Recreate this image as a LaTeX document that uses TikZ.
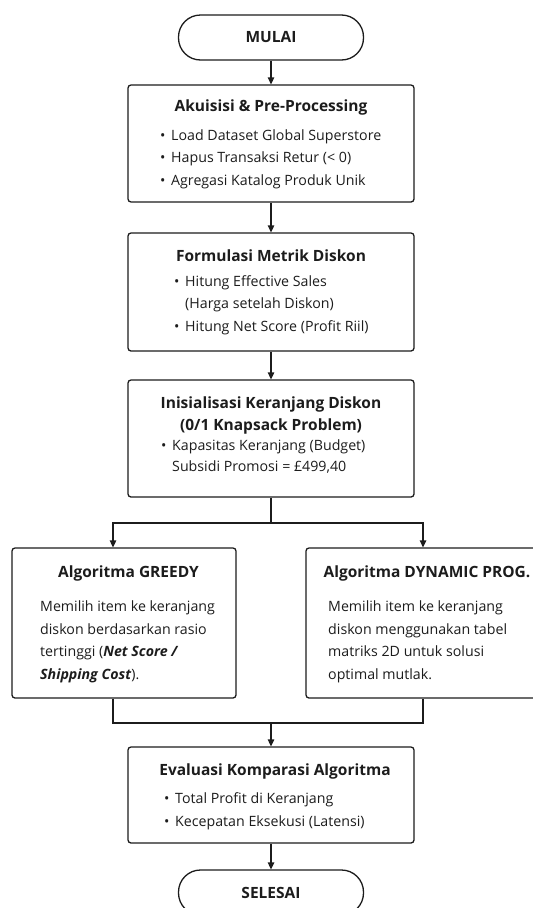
\documentclass[tikz,border=0pt]{standalone}
\usepackage{fontspec}
\setmainfont{Open Sans}
\usetikzlibrary{arrows.meta}
\definecolor{ink}{HTML}{1C1C1C}
\tikzset{
  boxstyle/.style={draw=ink, line width=1.3pt, rounded corners=3pt, inner sep=0pt},
  termstyle/.style={draw=ink, line width=1.3pt, rounded corners=22pt, inner sep=0pt, minimum width=185pt, minimum height=45pt},
  titletext/.style={text=ink, font=\fontsize{15.5}{22}\selectfont\bfseries, inner sep=0pt, align=center},
  bodytext/.style={text=ink, font=\fontsize{14.2}{22.6}\selectfont, inner sep=0pt, align=left, anchor=west},
  conn/.style={draw=ink, line width=1.3pt},
  arr/.style={conn, -{Triangle[length=7pt,width=6.5pt]}}
}
\newcommand{\bul}{\textbullet\hspace{0.4em}}
\newcommand{\bulind}{\phantom{\textbullet\hspace{0.4em}}}
\begin{document}
\begin{tikzpicture}[x=1pt,y=-1pt]
\useasboundingbox (0,0) rectangle (533,908);
% terminals
\node[termstyle] (start) at (271,37.5) {};
\node[titletext] (starttxt) at (271,37.5) {MULAI};
\node[termstyle] (stop) at (271,892.5) {};
\node[titletext] (stoptxt) at (271,892.5) {SELESAI};
% box 1
\node[boxstyle, minimum width=286pt, minimum height=117pt] (b1) at (271,143.5) {};
\node[titletext] (b1t) at (271,107) {Akuisisi \& Pre-Processing};
\node[bodytext] (b1b) at (160,159) {\bul Load Dataset Global Superstore\\ \bul Hapus Transaksi Retur (< 0)\\ \bul Agregasi Katalog Produk Unik};
% box 2
\node[boxstyle, minimum width=286pt, minimum height=118pt] (b2) at (271,292) {};
\node[titletext] (b2t) at (271,256) {Formulasi Metrik Diskon};
\node[bodytext] (b2b) at (174,305) {\bul Hitung Effective Sales\\ \bulind(Harga setelah Diskon)\\ \bul Hitung Net Score (Profit Riil)};
% box 3
\node[boxstyle, minimum width=286pt, minimum height=117pt] (b3) at (271,438.5) {};
\node[titletext] (b3t) at (271,415) {Inisialisasi Keranjang Diskon\\ (0/1 Knapsack Problem)};
\node[bodytext, font=\fontsize{14.2}{21}\selectfont] (b3b) at (161,456.5) {\bul Kapasitas Keranjang (Budget)\\ \bulind Subsidi Promosi = £499,40};
% greedy box
\node[boxstyle, minimum width=224pt, minimum height=150pt] (gr) at (124,623) {};
\node[titletext] (grt) at (128.5,573) {Algoritma GREEDY};
\node[bodytext] (grb) at (40,642) {Memilih item ke keranjang\\ diskon berdasarkan rasio\\ tertinggi (\textbf{\textit{Net Score /}}\\ \textbf{\textit{Shipping Cost}}).};
% dp box
\node[boxstyle, minimum width=244pt, minimum height=150pt] (dp) at (428,623) {};
\node[titletext] (dpt) at (427,573) {Algoritma DYNAMIC PROG.};
\node[bodytext] (dpb) at (328,642) {Memilih item ke keranjang\\ diskon menggunakan tabel\\ matriks 2D untuk solusi\\ optimal mutlak.};
% box 6
\node[boxstyle, minimum width=286pt, minimum height=96pt] (b6) at (271,795) {};
\node[titletext] (b6t) at (275,771) {Evaluasi Komparasi Algoritma};
\node[bodytext] (b6b) at (164,811.5) {\bul Total Profit di Keranjang\\ \bul Kecepatan Eksekusi (Latensi)};
% junctions
\coordinate (split) at (271,523);
\coordinate (sl) at (113,523);
\coordinate (sr) at (423,523);
\coordinate (ml) at (113,723);
\coordinate (mr) at (423,723);
\coordinate (mm) at (271,723);
% connectors
\draw[arr] (start) -- (b1);
\draw[arr] (b1) -- (b2);
\draw[arr] (b2) -- (b3);
\draw[conn] (b3) -- (split);
\draw[arr] (split) -- (sl) -- (sl |- gr.north);
\draw[arr] (split) -- (sr) -- (sr |- dp.north);
\draw[conn] (gr.south -| ml) -- (ml) -- (mr) -- (dp.south -| mr);
\draw[arr] (mm) -- (b6);
\draw[arr] (b6) -- (stop);
\end{tikzpicture}
\end{document}
